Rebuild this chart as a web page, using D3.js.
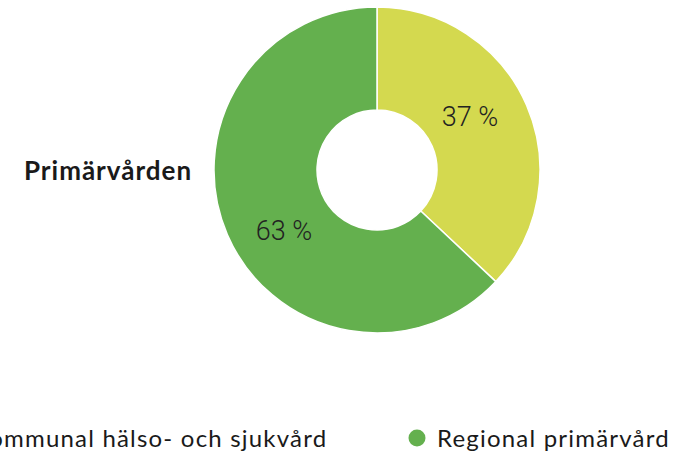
<!DOCTYPE html>
<html>
<head>
<meta charset="utf-8">
<script src="https://cdn.jsdelivr.net/npm/d3@7"></script>
<style>
  html, body { margin: 0; padding: 0; background: #fff; }
  svg { display: block; }
</style>
</head>
<body>
<svg id="chart" width="677" height="454"></svg>
<script>
const categories = ["Kommunal hälso- och sjukvård", "Regional primärvård"];
const values = [37, 63];
const valueLabels = ["37 %", "63 %"];
const colors = ["#d4d94f", "#64b04e"];
const title = "Primärvården";

const svg = d3.select("#chart");
const cx = 377, cy = 170, outerR = 163, innerR = 60;

const pie = d3.pie().sort(null).value(d => d)(values);
const arc = d3.arc().innerRadius(innerR).outerRadius(outerR);

const g = svg.append("g").attr("transform", `translate(${cx},${cy})`);
g.selectAll("path.slice")
  .data(pie)
  .join("path")
  .attr("class", "slice")
  .attr("d", arc)
  .attr("fill", (d, i) => colors[i])
  .attr("stroke", "#ffffff")
  .attr("stroke-width", 1.5);

const labelR = 109, angleShift = 0.14;
g.selectAll("text.val")
  .data(pie)
  .join("text")
  .attr("class", "val")
  .attr("x", d => { const a = (d.startAngle + d.endAngle) / 2 - angleShift; return Math.sin(a) * labelR; })
  .attr("y", d => { const a = (d.startAngle + d.endAngle) / 2 - angleShift; return -Math.cos(a) * labelR + 4; })
  .attr("text-anchor", "middle")
  .attr("dominant-baseline", "central")
  .attr("font-family", "Roboto, sans-serif")
  .attr("font-weight", 300)
  .attr("font-size", 27)
  .attr("fill", "#222")
  .text((d, i) => valueLabels[i]);

svg.append("text")
  .attr("x", 108)
  .attr("y", 180)
  .attr("text-anchor", "middle")
  .attr("font-family", "Lato, sans-serif")
  .attr("font-weight", 700)
  .attr("font-size", 26)
  .attr("letter-spacing", 1)
  .attr("fill", "#1a1a1a")
  .text(title);

// legend
const legendX = [-47, 417];
const legend = svg.selectAll("g.leg")
  .data(categories)
  .join("g")
  .attr("class", "leg")
  .attr("transform", (d, i) => `translate(${legendX[i]},438)`);
legend.append("circle")
  .attr("r", 8.5)
  .attr("fill", (d, i) => colors[i]);
legend.append("text")
  .attr("x", 20)
  .attr("y", 9)
  .attr("font-family", "Lato, sans-serif")
  .attr("font-size", 24)
  .attr("letter-spacing", 1.2)
  .attr("fill", "#1a1a1a")
  .text(d => d);
</script>
</body>
</html>
